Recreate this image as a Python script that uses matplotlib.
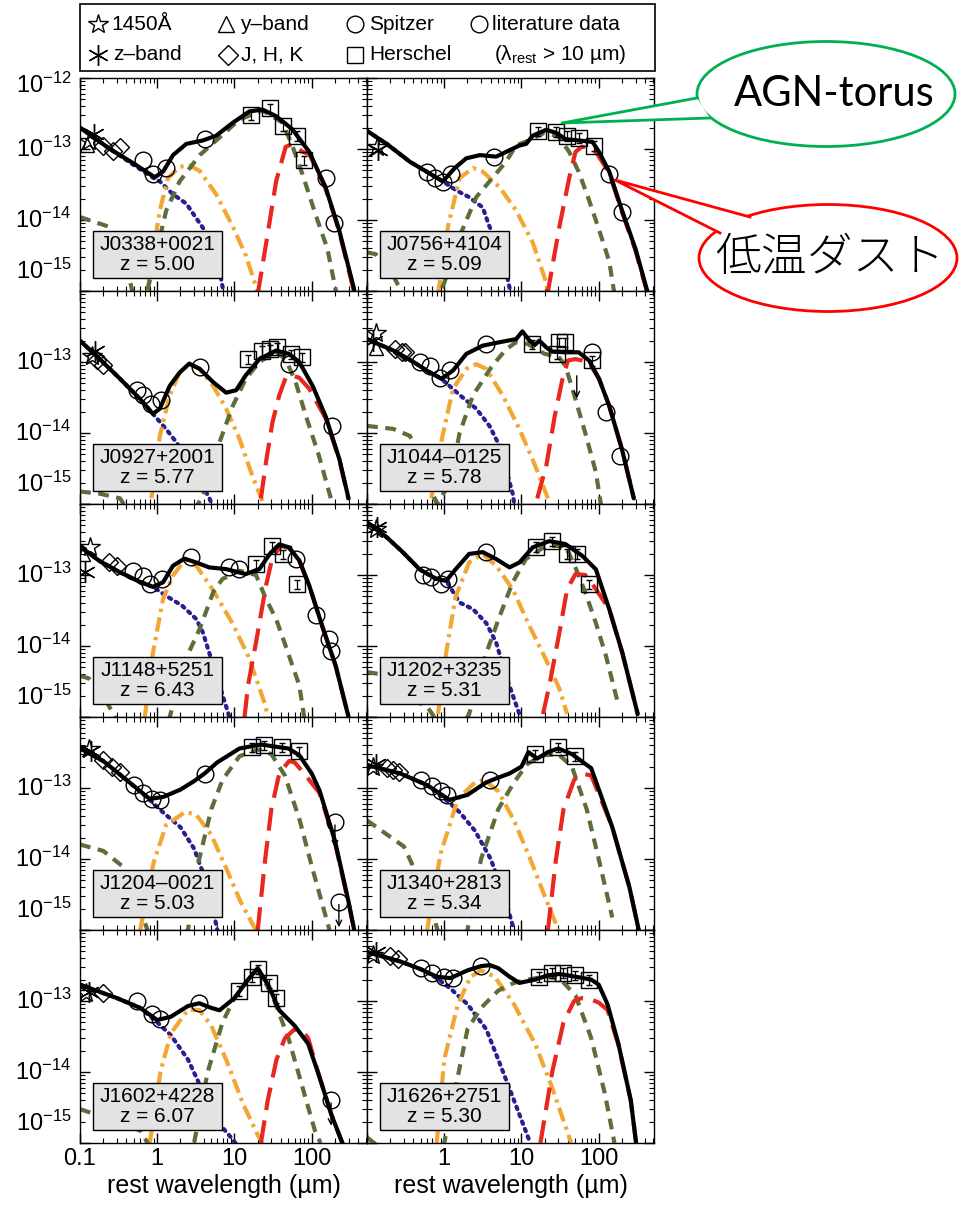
import numpy as np
import matplotlib.pyplot as plt
from matplotlib.patches import Ellipse, Polygon, Rectangle
from matplotlib.ticker import LogLocator, NullFormatter
from matplotlib.transforms import blended_transform_factory

plt.rcParams['font.family'] = ['Liberation Sans', 'DejaVu Sans']
plt.rcParams['mathtext.fontset'] = 'custom'
plt.rcParams['mathtext.rm'] = 'Liberation Sans'
plt.rcParams['mathtext.it'] = 'Liberation Sans:italic'

W, H = 963, 1211

# flux in units of 1e-13, wavelength in micron
names = ['J0338+0021', 'J0756+4104', 'J0927+2001', 'J1044\u20130125', 'J1148+5251',
         'J1202+3235', 'J1204\u20130021', 'J1340+2813', 'J1602+4228', 'J1626+2751']
zs = ['5.00', '5.09', '5.77', '5.78', '6.43', '5.31', '5.03', '5.34', '6.07', '5.30']

# --- J0338+0021
p1_tot = [[0.1, 0.244, 0.49, 0.93, 1.19, 1.6, 2.38, 3.9, 5.8, 9.5, 15.6, 23, 34.6, 56, 93, 151, 226, 355],
          [2.0, 1.0, 0.63, 0.40, 0.48, 0.82, 1.18, 1.32, 1.54, 2.34, 3.38, 3.6, 2.9, 1.9, 0.91, 0.29, 0.073, 0.0105]]
p1_disk = [[0.1, 0.244, 0.49, 0.93, 1.08, 1.6, 2.38, 3.55, 5.3, 6.7, 7.3],
           [2.0, 1.0, 0.6, 0.38, 0.35, 0.23, 0.17, 0.09, 0.048, 0.015, 0.009]]
p1_hot = [[0.74, 0.9, 1.08, 1.38, 1.95, 2.6, 3.55, 5.8, 9.5, 14, 20.5],
          [0.009, 0.04, 0.137, 0.39, 0.56, 0.59, 0.49, 0.23, 0.081, 0.032, 0.009]]
p1_torus = [[0.1, 0.24, 0.35, 0.5, 0.65, 0.76, 1.0, 1.31, 1.95, 3.55, 6.4, 11.6, 23, 42, 56, 76, 112, 160, 210],
            [0.11, 0.08, 0.04, 0.008, 0.005, 0.011, 0.04, 0.137, 0.35, 0.82, 1.45, 2.6, 3.5, 2.34, 1.12, 0.44, 0.12, 0.039, 0.009]]
p1_cold = [[20, 25.8, 34.6, 46, 56, 76, 93, 151, 226, 355],
           [0.009, 0.048, 0.35, 1.07, 1.18, 0.91, 0.85, 0.28, 0.07, 0.0095]]
p1_pts = {'star': [[0.13], [1.3]], 'ast': [[0.153], [1.62]], 'tri': [[0.125], [1.15]],
          'dia': [[0.2, 0.27, 0.33], [1.1, 0.95, 1.05]],
          'circ': [[0.66, 0.88, 1.29, 4.1, 151, 193], [0.7, 0.44, 0.54, 1.38, 0.39, 0.09]],
          'sq': [[16.4, 28.6, 42, 65, 80], [3.0, 3.8, 2.1, 1.54, 0.7]], 'lim': [[], []]}

# --- J0756+4104
p2_tot = [[0.1, 0.18, 0.36, 0.59, 0.96, 1.37, 1.93, 2.9, 4.7, 7, 9.4, 11.5, 14, 20.7, 28, 37, 55, 83, 101, 137, 200, 300, 425],
          [1.8, 1.18, 0.66, 0.48, 0.35, 0.54, 0.74, 0.82, 0.78, 0.96, 1.12, 1.18, 1.54, 1.86, 1.7, 1.38, 1.32, 1.26, 0.91, 0.48, 0.137, 0.039, 0.01]]
p2_disk = [[0.1, 0.18, 0.36, 0.59, 0.96, 1.44, 2.1, 3.15, 3.85, 5.7, 7.3],
           [1.8, 1.18, 0.66, 0.48, 0.35, 0.26, 0.21, 0.15, 0.081, 0.032, 0.009]]
p2_hot = [[0.83, 1.12, 1.58, 2.36, 3.15, 5.2, 8.5, 14, 21, 22],
          [0.009, 0.081, 0.39, 0.54, 0.48, 0.29, 0.137, 0.048, 0.013, 0.009]]
p2_torus = [[0.1, 0.13, 0.2, 0.35, 0.6, 0.85, 1.0, 1.58, 2.6, 4.2, 6.3, 8.5, 12, 20, 30, 41.5, 55, 75, 101, 137, 160],
            [0.035, 0.033, 0.02, 0.006, 0.004, 0.009, 0.013, 0.059, 0.21, 0.39, 0.66, 1.12, 1.3, 1.7, 1.5, 0.91, 0.48, 0.19, 0.073, 0.026, 0.009]]
p2_cold = [[21.7, 31, 41.5, 50, 60, 75, 92, 137, 200, 300, 425],
           [0.009, 0.081, 0.39, 0.91, 1.07, 1.07, 0.91, 0.46, 0.13, 0.037, 0.0095]]
p2_pts = {'star': [[0.135], [1.05]], 'ast': [[0.14], [0.96]], 'tri': [[], []], 'dia': [[], []],
          'circ': [[0.59, 0.75, 0.96, 1.23, 4.4, 137, 200], [0.48, 0.39, 0.34, 0.44, 0.78, 0.44, 0.13]],
          'sq': [[16.3, 28, 39, 55, 88], [1.8, 1.75, 1.54, 1.45, 1.12]], 'lim': [[], []]}

# --- J0927+2001
p3_tot = [[0.1, 0.18, 0.33, 0.6, 0.88, 1.08, 1.45, 1.95, 2.6, 3.55, 5.3, 7.8, 10.5, 14, 21, 34.6, 51, 69, 103, 152, 228, 300],
          [2.0, 1.1, 0.58, 0.30, 0.186, 0.22, 0.46, 0.71, 0.95, 0.80, 0.52, 0.37, 0.40, 0.65, 1.1, 1.45, 1.3, 1.0, 0.46, 0.17, 0.043, 0.012]]
p3_disk = [[0.1, 0.18, 0.33, 0.6, 0.88, 1.3, 1.77, 3.0, 4.75, 5.5],
           [2.0, 1.1, 0.58, 0.30, 0.186, 0.114, 0.074, 0.03, 0.012, 0.008]]
p3_hot = [[0.84, 1.08, 1.45, 1.95, 2.6, 3.55, 5.3, 7.8, 11.6, 17, 23],
          [0.012, 0.091, 0.34, 0.71, 0.93, 0.80, 0.46, 0.22, 0.083, 0.025, 0.011]]
p3_torus = [[0.1, 0.18, 0.33, 0.5, 1.0, 2.0, 3.9, 6.4, 9.5, 14, 21, 34.6, 46, 62, 84, 124, 177],
            [0.015, 0.014, 0.012, 0.006, 0.002, 0.004, 0.013, 0.074, 0.24, 0.58, 1.0, 1.38, 1.1, 0.52, 0.175, 0.048, 0.012]]
p3_cold = [[22, 25.6, 31, 38, 46, 54, 69, 93, 152, 228, 300],
           [0.012, 0.039, 0.14, 0.34, 0.6, 0.65, 0.6, 0.42, 0.16, 0.042, 0.0115]]
p3_pts = {'star': [[0.145], [1.2]], 'ast': [[0.156], [1.45]], 'tri': [[], []],
          'dia': [[0.164, 0.2], [1.05, 0.9]],
          'circ': [[0.54, 0.66, 0.84, 1.13, 3.55, 51, 185], [0.40, 0.34, 0.26, 0.29, 0.84, 0.93, 0.126]],
          'sq': [[14.8, 23, 28.6, 36, 54, 76], [1.1, 1.45, 1.51, 1.62, 1.3, 1.17]], 'lim': [[], []]}

# --- J1044-0125
p4_tot = [[0.1, 0.22, 0.4, 0.59, 0.92, 1.3, 1.93, 3.15, 5.2, 8.5, 10.3, 12.7, 15, 17, 21, 25, 37, 55, 75, 101, 137, 200, 285],
          [2.1, 1.45, 1.0, 0.76, 0.58, 0.76, 1.3, 1.7, 1.9, 2.1, 2.7, 2.0, 1.75, 2.0, 1.6, 1.4, 1.37, 1.37, 1.05, 0.58, 0.24, 0.059, 0.012]]
p4_disk = [[0.1, 0.22, 0.4, 0.59, 0.92, 1.6, 2.6, 3.85, 5.2, 7.7, 8.2],
           [2.1, 1.45, 1.0, 0.76, 0.58, 0.34, 0.22, 0.126, 0.066, 0.014, 0.009]]
p4_hot = [[0.68, 0.87, 1.3, 1.93, 2.6, 3.5, 5.7, 9.4, 15, 22],
          [0.012, 0.059, 0.42, 0.8, 0.93, 0.8, 0.34, 0.114, 0.035, 0.012]]
p4_torus = [[0.1, 0.22, 0.36, 0.5, 0.8, 1.2, 1.58, 2.36, 4.2, 6.3, 8.5, 12, 20, 30, 37, 50, 67, 92, 110],
            [0.126, 0.114, 0.091, 0.04, 0.01, 0.02, 0.1, 0.34, 0.89, 1.5, 1.9, 1.8, 1.3, 1.2, 0.89, 0.30, 0.1, 0.028, 0.008]]
p4_cold = [[16, 21, 27, 34, 40, 50, 61, 75, 101, 137, 200, 285],
           [0.012, 0.035, 0.175, 0.58, 1.05, 1.1, 1.05, 0.98, 0.58, 0.24, 0.059, 0.012]]
p4_pts = {'star': [[0.13], [2.6]], 'ast': [[0.12], [2.0]], 'tri': [[0.13], [1.6]],
          'dia': [[0.23, 0.28, 0.31], [1.5, 1.4, 1.38]],
          'circ': [[0.49, 0.65, 0.88, 1.18, 3.5, 82, 123, 191], [1.0, 0.89, 0.6, 0.76, 1.77, 1.4, 0.195, 0.048]],
          'sq': [[13.8, 29, 30.4, 37, 82], [1.77, 1.3, 1.9, 1.9, 1.05]], 'lim': [[52], [0.7]]}

# --- J1148+5251
p5_tot = [[0.1, 0.18, 0.33, 0.6, 0.88, 1.19, 1.6, 2.25, 3.2, 4.7, 7.8, 14, 21, 28.6, 38, 51, 69, 93, 137, 204, 300],
          [2.5, 1.57, 1.09, 0.8, 0.68, 0.79, 1.35, 1.7, 1.5, 1.28, 1.21, 1.03, 1.21, 1.98, 2.7, 2.45, 1.6, 0.71, 0.19, 0.053, 0.01]]
p5_disk = [[0.1, 0.18, 0.33, 0.6, 0.88, 1.3, 2.1, 3.2, 3.9, 4.7, 6.4, 8.6],
           [2.5, 1.57, 1.09, 0.8, 0.68, 0.51, 0.37, 0.24, 0.155, 0.081, 0.028, 0.01]]
p5_hot = [[0.69, 0.88, 1.19, 1.6, 2.25, 3.2, 5.2, 9.4, 15, 25.5, 27],
          [0.01, 0.081, 0.46, 0.98, 1.6, 1.35, 0.63, 0.21, 0.073, 0.014, 0.009]]
p5_torus = [[0.1, 0.13, 0.2, 0.4, 0.8, 1.45, 2.35, 3.55, 5.3, 7.0, 11.6, 19, 25.6, 34.6, 46, 69, 80],
            [0.038, 0.035, 0.02, 0.005, 0.003, 0.01, 0.066, 0.175, 0.57, 0.88, 1.15, 1.0, 0.46, 0.24, 0.1, 0.028, 0.01]]
p5_cold = [[13.5, 15, 19, 25.6, 31, 40, 51, 69, 93, 137, 204, 300],
           [0.01, 0.028, 0.112, 0.71, 1.77, 2.57, 2.4, 1.6, 0.7, 0.19, 0.053, 0.01]]
p5_pts = {'star': [[0.135], [2.5]], 'ast': [[0.116], [1.09]], 'tri': [[0.11], [2.0]],
          'dia': [[0.24, 0.3], [1.5, 1.35]],
          'circ': [[0.49, 0.66, 0.8, 1.15, 2.75, 8.4, 11.6, 62, 112, 166, 176],
                   [1.15, 0.98, 0.74, 0.87, 1.77, 1.28, 1.21, 1.69, 0.27, 0.125, 0.085]],
          'sq': [[19, 31, 42, 65], [1.42, 2.57, 1.98, 0.74]], 'lim': [[], []]}

# --- J1202+3235
p6_tot = [[0.1, 0.18, 0.29, 0.48, 0.79, 1.06, 1.4, 2.1, 3.15, 4.7, 7.0, 9.4, 14, 23, 37, 61, 92, 137, 202, 320],
          [5.5, 3.4, 2.1, 1.2, 0.88, 0.83, 1.2, 1.98, 2.1, 1.68, 1.28, 1.5, 2.45, 3.0, 2.73, 1.87, 1.2, 0.33, 0.081, 0.011]]
p6_disk = [[0.1, 0.18, 0.29, 0.48, 0.79, 1.06, 1.58, 2.36, 3.5, 4.7, 6.3, 9.4],
           [5.5, 3.4, 2.1, 1.2, 0.88, 0.83, 0.41, 0.33, 0.21, 0.112, 0.038, 0.011]]
p6_hot = [[0.83, 1.06, 1.4, 2.1, 3.15, 4.7, 7.7, 12.6, 20.5, 31, 39],
          [0.011, 0.081, 0.49, 1.5, 1.98, 1.35, 0.63, 0.195, 0.066, 0.025, 0.011]]
p6_torus = [[0.1, 0.15, 0.3, 0.6, 0.7, 1.2, 2.1, 3.5, 5.2, 7.7, 11.4, 20.7, 37, 49, 67, 92, 124, 182],
            [0.043, 0.04, 0.02, 0.014, 0.011, 0.004, 0.011, 0.079, 0.26, 0.79, 1.68, 2.57, 2.57, 1.35, 0.57, 0.21, 0.073, 0.014]]
p6_cold = [[19, 23, 31, 39, 50, 67, 82, 137, 202, 320],
           [0.011, 0.028, 0.155, 0.63, 1.03, 1.0, 0.76, 0.33, 0.08, 0.011]]
p6_pts = {'star': [[0.13], [4.5]], 'ast': [[0.135], [4.8]], 'tri': [[], []], 'dia': [[], []],
          'circ': [[0.53, 0.68, 0.92, 1.12, 3.5], [1.0, 0.95, 0.74, 0.88, 2.1]],
          'sq': [[15.5, 25, 39, 52, 75], [2.5, 3.0, 2.0, 2.0, 0.74]], 'lim': [[], []]}

# --- J1204-0021
p7_tot = [[0.1, 0.2, 0.4, 0.8, 1.2, 2.0, 3.0, 4.1, 6, 11.6, 22, 35, 50, 69, 100, 126, 200, 300, 355],
          [3.6, 2.4, 1.3, 0.7, 0.75, 0.95, 1.25, 1.6, 2.3, 3.6, 4.1, 3.8, 3.6, 2.9, 1.6, 0.93, 0.18, 0.025, 0.01]]
p7_disk = [[0.1, 0.2, 0.4, 0.8, 1.2, 2, 3, 4, 5, 6],
           [3.6, 2.4, 1.3, 0.68, 0.45, 0.28, 0.14, 0.06, 0.025, 0.01]]
p7_hot = [[0.6, 0.9, 1.3, 2.3, 3.2, 5, 8, 12, 18, 20],
          [0.01, 0.09, 0.3, 0.46, 0.42, 0.22, 0.07, 0.025, 0.011, 0.009]]
p7_torus = [[0.1, 0.2, 0.35, 0.6, 1, 2.5, 3.5, 5, 7, 11.6, 20, 30, 45, 70, 100, 170],
            [0.16, 0.13, 0.08, 0.02, 0.004, 0.01, 0.1, 0.5, 1.3, 2.8, 3.5, 3.0, 1.5, 0.35, 0.08, 0.01]]
p7_cold = [[20, 25, 30, 38, 51, 60, 80, 126, 200, 300, 355],
           [0.01, 0.1, 0.5, 1.6, 2.4, 2.3, 1.6, 0.85, 0.17, 0.024, 0.01]]
p7_pts = {'star': [[0.13], [3.6]], 'ast': [[0.14], [3.3]], 'tri': [[], []],
          'dia': [[0.2, 0.26, 0.33], [2.5, 2.0, 1.7]],
          'circ': [[0.5, 0.65, 0.85, 1.1, 4.1, 200, 225], [1.1, 0.85, 0.7, 0.68, 1.6, 0.33, 0.025]],
          'sq': [[17, 24, 41, 69], [3.8, 4.0, 3.8, 3.3]], 'lim': [[200, 225], [0.33, 0.025]]}

# --- J1340+2813
p8_tot = [[0.1, 0.27, 0.6, 1.17, 2, 3.5, 5, 7, 10, 12.3, 16, 22, 30, 45, 80, 150, 250, 330],
          [2.1, 1.6, 1.1, 0.68, 0.8, 1.2, 1.4, 1.6, 2.0, 3.2, 2.6, 3.2, 3.6, 3.0, 1.9, 0.28, 0.04, 0.01]]
p8_disk = [[0.1, 0.27, 0.6, 1.17, 1.6, 2.5, 4, 6, 8],
           [2.1, 1.6, 1.1, 0.62, 0.45, 0.25, 0.1, 0.03, 0.01]]
p8_hot = [[0.6, 0.9, 1.5, 2.5, 3.3, 5, 8, 13, 20, 30],
          [0.01, 0.12, 0.7, 1.2, 1.3, 0.9, 0.35, 0.1, 0.03, 0.01]]
p8_torus = [[0.1, 0.3, 0.6, 1, 2, 3, 5, 8, 12, 20, 30, 45, 70, 100, 150],
            [0.35, 0.15, 0.03, 0.005, 0.01, 0.1, 0.5, 1.2, 2.2, 2.9, 3.0, 2.0, 0.5, 0.1, 0.015]]
p8_cold = [[22, 28, 35, 48, 60, 80, 150, 250, 330],
           [0.01, 0.1, 0.5, 1.3, 1.6, 1.5, 0.28, 0.04, 0.01]]
p8_pts = {'star': [[0.12], [2.0]], 'ast': [[0.13], [2.2]], 'tri': [[], []],
          'dia': [[0.18, 0.22, 0.26], [1.9, 1.8, 1.7]],
          'circ': [[0.5, 0.7, 0.9, 1.1, 3.9], [1.3, 1.05, 0.9, 0.8, 1.3]],
          'sq': [[15, 30, 50], [3.0, 3.8, 2.8]], 'lim': [[], []]}

# --- J1602+4228
p9_tot = [[0.1, 0.3, 0.6, 1.0, 1.5, 2.5, 3.5, 5, 6.4, 10, 15, 20, 28, 38, 60, 90, 124, 180, 270],
          [1.7, 1.1, 0.8, 0.54, 0.6, 0.85, 0.93, 0.8, 0.74, 1.1, 2.0, 2.9, 1.6, 0.74, 0.45, 0.25, 0.09, 0.025, 0.008]]
p9_disk = [[0.1, 0.3, 0.6, 1.0, 1.5, 2.5, 4, 6, 9, 10.3],
           [1.7, 1.1, 0.8, 0.5, 0.33, 0.15, 0.05, 0.02, 0.012, 0.01]]
p9_hot = [[0.8, 1.1, 1.5, 2.5, 3.5, 5, 8, 13, 20, 23],
          [0.01, 0.1, 0.35, 0.75, 0.75, 0.45, 0.14, 0.035, 0.013, 0.01]]
p9_torus = [[0.1, 0.3, 0.6, 1, 2, 3, 4.5, 7, 10, 15, 20, 30, 50, 80, 110, 130],
            [0.03, 0.02, 0.015, 0.006, 0.005, 0.01, 0.1, 0.5, 1.1, 2.0, 2.7, 1.3, 0.3, 0.05, 0.015, 0.01]]
p9_cold = [[22, 27, 35, 45, 60, 75, 90, 124, 180, 270],
           [0.01, 0.04, 0.15, 0.3, 0.4, 0.38, 0.3, 0.09, 0.025, 0.008]]
p9_pts = {'star': [[0.12], [1.3]], 'ast': [[0.13], [1.35]], 'tri': [[], []], 'dia': [[0.2], [1.3]],
          'circ': [[0.55, 0.85, 1.1, 3.5, 178], [1.0, 0.65, 0.55, 0.93, 0.04]],
          'sq': [[11.6, 17, 20, 28, 35], [1.4, 2.2, 2.8, 1.8, 1.1]], 'lim': [[178], [0.04]]}

# --- J1626+2751
p10_tot = [[0.1, 0.27, 0.5, 0.8, 1.2, 2, 3, 3.9, 5, 7, 9.4, 15, 22, 31, 50, 80, 100, 130, 180, 260, 305],
           [4.9, 3.6, 2.8, 2.2, 2.1, 2.7, 3.1, 3.2, 2.9, 2.2, 1.8, 2.0, 2.3, 2.4, 2.2, 2.0, 1.7, 0.9, 0.25, 0.04, 0.01]]
p10_disk = [[0.1, 0.27, 0.5, 0.8, 1.2, 2, 3.5, 5, 8, 13],
            [4.9, 3.6, 2.8, 2.1, 1.5, 0.9, 0.4, 0.15, 0.04, 0.01]]
p10_hot = [[0.8, 1.0, 1.5, 2.2, 3, 4.5, 8, 15, 25, 44],
           [0.01, 0.15, 0.9, 2.2, 2.7, 2.2, 0.9, 0.25, 0.06, 0.01]]
p10_torus = [[0.1, 0.5, 0.8, 1, 2, 3, 5, 8, 12, 20, 31, 50, 80, 120, 160],
             [0.012, 0.003, 0.005, 0.01, 0.4, 0.8, 1.4, 1.8, 2.0, 2.2, 2.1, 1.2, 0.3, 0.05, 0.01]]
p10_cold = [[17.6, 25, 35, 48, 60, 80, 100, 130, 180, 260, 305],
            [0.01, 0.1, 0.5, 1.0, 1.1, 1.05, 0.95, 0.75, 0.24, 0.04, 0.01]]
p10_pts = {'star': [[0.12], [4.5]], 'ast': [[0.13], [4.9]], 'tri': [[], []],
           'dia': [[0.2, 0.25], [4.3, 3.9]],
           'circ': [[0.5, 0.7, 1.0, 1.3, 3.0], [2.9, 2.5, 2.2, 2.1, 3.1]],
           'sq': [[17, 25, 35, 50, 75], [2.2, 2.5, 2.5, 2.3, 2.0]], 'lim': [[], []]}

panels = [(p1_tot, p1_disk, p1_hot, p1_torus, p1_cold, p1_pts),
          (p2_tot, p2_disk, p2_hot, p2_torus, p2_cold, p2_pts),
          (p3_tot, p3_disk, p3_hot, p3_torus, p3_cold, p3_pts),
          (p4_tot, p4_disk, p4_hot, p4_torus, p4_cold, p4_pts),
          (p5_tot, p5_disk, p5_hot, p5_torus, p5_cold, p5_pts),
          (p6_tot, p6_disk, p6_hot, p6_torus, p6_cold, p6_pts),
          (p7_tot, p7_disk, p7_hot, p7_torus, p7_cold, p7_pts),
          (p8_tot, p8_disk, p8_hot, p8_torus, p8_cold, p8_pts),
          (p9_tot, p9_disk, p9_hot, p9_torus, p9_cold, p9_pts),
          (p10_tot, p10_disk, p10_hot, p10_torus, p10_cold, p10_pts)]

c_disk, c_hot, c_torus, c_cold = '#2a1f8f', '#f2a735', '#5b6e3c', '#e8271f'
lw = 3.0

fig = plt.figure(figsize=(W / 100, H / 100), dpi=100)

ax_left = [80, 367]
ax_w = 287
row_top = 78
row_h = 213

asterisk = (6, 2, 0)
for k, (tot, disk, hot, torus, cold, pts) in enumerate(panels):
    r, c = divmod(k, 2)
    top = row_top + r * row_h
    ax = fig.add_axes([ax_left[c] / W, 1 - (top + row_h) / H, ax_w / W, row_h / H])
    ax.set_xscale('log')
    ax.set_yscale('log')

    s = 1e-13
    ax.plot(disk[0], np.array(disk[1]) * s, color=c_disk, lw=lw, ls=(0, (0.6, 1.3)),
            dash_capstyle='round')
    ax.plot(hot[0], np.array(hot[1]) * s, color=c_hot, lw=lw, ls=(0, (3.5, 1.3, 0.8, 1.3)))
    ax.plot(torus[0], np.array(torus[1]) * s, color=c_torus, lw=lw, ls=(0, (2.6, 1.8)))
    ax.plot(cold[0], np.array(cold[1]) * s, color=c_cold, lw=lw, ls=(0, (5.5, 2.5)))
    ax.plot(tot[0], np.array(tot[1]) * s, color='black', lw=lw, solid_capstyle='round')

    mk = dict(ls='none', mfc='none', mec='black', mew=1.0)
    ax.plot(pts['star'][0], np.array(pts['star'][1]) * s, marker='*', ms=15, **mk)
    ax.plot(pts['ast'][0], np.array(pts['ast'][1]) * s, marker=asterisk, ms=15, **mk)
    ax.plot(pts['tri'][0], np.array(pts['tri'][1]) * s, marker='^', ms=10, **mk)
    ax.plot(pts['dia'][0], np.array(pts['dia'][1]) * s, marker='D', ms=9, **mk)
    ax.plot(pts['circ'][0], np.array(pts['circ'][1]) * s, marker='o', ms=12, **mk)
    sq_y = np.array(pts['sq'][1]) * s
    ax.errorbar(pts['sq'][0], sq_y, yerr=0.15 * sq_y, fmt='s', ms=11, mfc='none', mec='black',
                mew=1.0, ecolor='black', elinewidth=0.9, capsize=2)
    for lx, ly in zip(pts['lim'][0], pts['lim'][1]):
        ax.annotate('', xy=(lx, ly * s * 0.4), xytext=(lx, ly * s),
                    arrowprops=dict(arrowstyle='->', color='black', lw=1.0))

    ax.set_xlim(0.1, 520)
    ax.set_ylim(1e-15, 1e-12)
    ax.set_xticks([0.1, 1, 10, 100])
    ax.xaxis.set_minor_locator(LogLocator(base=10, subs=np.arange(2, 10), numticks=20))
    ax.yaxis.set_major_locator(LogLocator(base=10, numticks=10))
    ax.yaxis.set_minor_locator(LogLocator(base=10, subs=np.arange(2, 10), numticks=20))
    ax.yaxis.set_major_formatter(NullFormatter())
    ax.yaxis.set_minor_formatter(NullFormatter())
    ax.xaxis.set_minor_formatter(NullFormatter())
    ax.tick_params(which='both', direction='in', top=True, right=True, labelsize=17)
    ax.tick_params(which='major', length=7, width=1.0)
    ax.tick_params(which='minor', length=3.5, width=0.8)
    for sp in ax.spines.values():
        sp.set_linewidth(1.0)

    if r == 4:
        if c == 0:
            ax.set_xticklabels(['0.1', '1', '10', '100'])
        else:
            ax.set_xticklabels(['', '1', '10', '100'])
        ax.set_xlabel('rest wavelength (\u00b5m)', fontsize=18, labelpad=3)
    else:
        ax.set_xticklabels([])

    if c == 0:
        tr = blended_transform_factory(ax.transAxes, ax.transData)
        ylabs = [(1e-13, r'$10^{-13}$'), (1e-14, r'$10^{-14}$'), (10 ** -14.72, r'$10^{-15}$')]
        if r == 0:
            ylabs.append((10 ** -12.1, r'$10^{-12}$'))
        for yv, txt in ylabs:
            ax.text(-0.03, yv, txt, transform=tr, ha='right', va='center', fontsize=17)

    ax.add_patch(Rectangle((0.045, 0.06), 0.45, 0.22, transform=ax.transAxes,
                           facecolor='#e3e3e3', edgecolor='black', lw=1.0, zorder=5))
    ax.text(0.27, 0.17, names[k] + '\nz = ' + zs[k], transform=ax.transAxes, ha='center',
            va='center', fontsize=15, linespacing=1.05, zorder=6)

# legend box
lg = fig.add_axes([0, 0, 1, 1], zorder=10)
lg.set_xlim(0, W)
lg.set_ylim(H, 0)
lg.axis('off')
lg.add_patch(Rectangle((80, 4), 575, 67, facecolor='white', edgecolor='black', lw=1.2))
leg_mk = dict(ls='none', mfc='none', mec='black', mew=1.0)
r1, r2 = 24, 55
lg.plot([98], [r1], marker='*', ms=15, **leg_mk)
lg.plot([98], [r2], marker=asterisk, ms=15, **leg_mk)
lg.plot([226], [r1], marker='^', ms=11, **leg_mk)
lg.plot([228], [r2], marker='D', ms=10, **leg_mk)
lg.plot([355], [r1], marker='o', ms=12, **leg_mk)
lg.plot([355], [r2], marker='s', ms=11, **leg_mk)
lg.plot([479], [r1], marker='o', ms=12, **leg_mk)
lfs = 15
lg.text(111, r1, '1450\u00c5', fontsize=lfs, va='center')
lg.text(113, r2, 'z\u2013band', fontsize=lfs, va='center')
lg.text(240, r1, 'y\u2013band', fontsize=lfs, va='center')
lg.text(241, r2, 'J, H, K', fontsize=lfs, va='center')
lg.text(369, r1, 'Spitzer', fontsize=lfs, va='center')
lg.text(369, r2, 'Herschel', fontsize=lfs, va='center')
lg.text(492, r1, 'literature data', fontsize=lfs, va='center')
lg.text(560, r2, '(\u03bb$_{\\rm rest}$ > 10 \u00b5m)', fontsize=lfs, va='center', ha='center')

# callouts
green, red = '#00b050', '#ff0000'
lg.add_patch(Ellipse((826, 94), 258, 105, facecolor='white', edgecolor=green, lw=2))
lg.add_patch(Polygon([(562, 123), (697, 98), (710, 118)], closed=True, facecolor='white',
                     edgecolor='none'))
lg.plot([697, 562, 710], [98, 123, 118], color=green, lw=2)
lg.text(834, 94, 'AGN-torus', fontsize=30, family=['Lato', 'DejaVu Sans'], ha='center',
        va='center')

lg.add_patch(Ellipse((828, 258), 258, 107, facecolor='white', edgecolor=red, lw=2))
lg.add_patch(Polygon([(615, 180), (750, 217), (720, 233)], closed=True, facecolor='white',
                     edgecolor='none'))
lg.plot([750, 615, 720], [217, 180, 233], color=red, lw=2)
lg.text(830, 258, '低温ダスト', fontsize=33, family=['Noto Sans CJK JP', 'DejaVu Sans'],
        ha='center', va='center', fontweight='light')

fig.savefig('out.png', dpi=100)
